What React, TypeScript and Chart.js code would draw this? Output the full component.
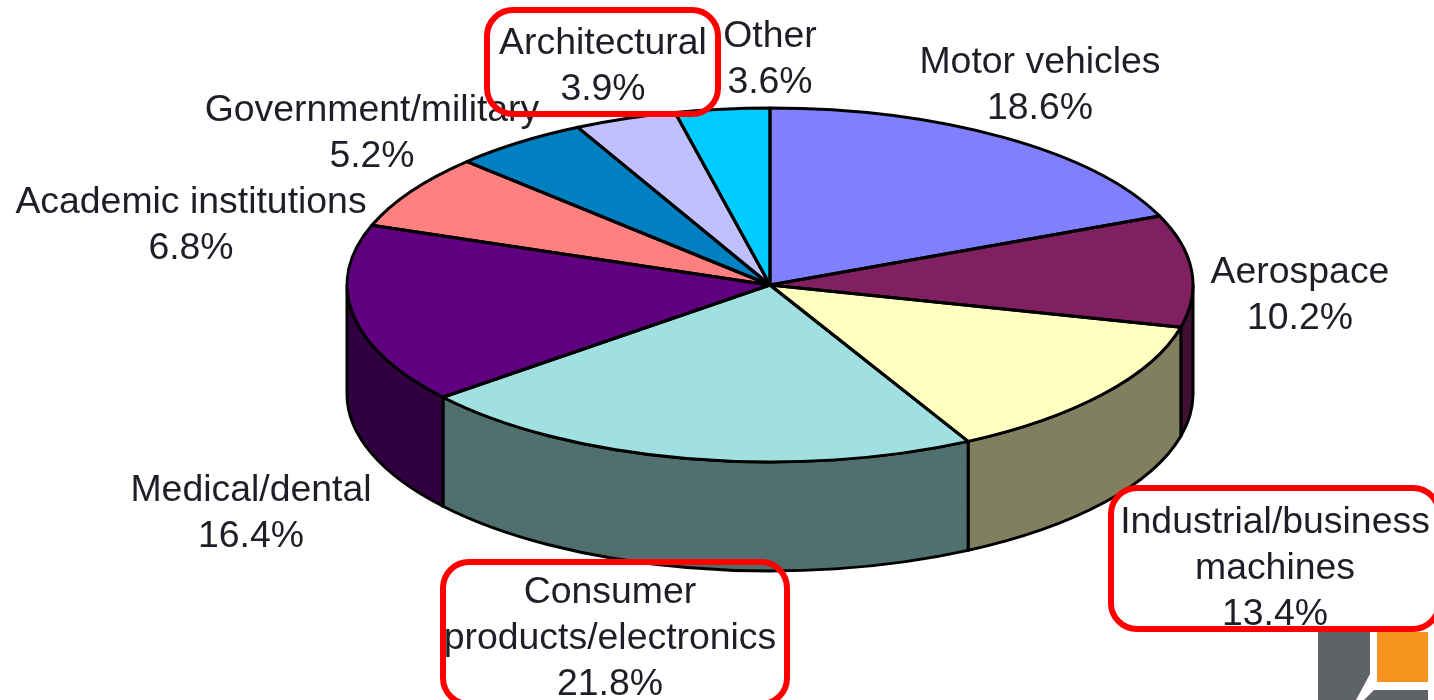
import React, { useEffect, useRef } from "react";
import { Chart, registerables } from "chart.js";

Chart.register(...registerables);

const categories = [
  ["Motor vehicles"],
  ["Aerospace"],
  ["Industrial/business", "machines"],
  ["Consumer", "products/electronics"],
  ["Medical/dental"],
  ["Academic institutions"],
  ["Government/military"],
  ["Architectural"],
  ["Other"],
];
const shares = [18.6, 10.2, 13.4, 21.8, 16.4, 6.8, 5.2, 3.9, 3.6];
const topColors = ["#8080ff", "#802060", "#ffffc0", "#a0e0e0", "#600080", "#ff8080", "#0080c0", "#c0c0ff", "#00ccff"];
const wallColors = ["#404080", "#401030", "#808060", "#507070", "#300040", "#804040", "#004060", "#606080", "#006680"];

// Layout only: centre x and first-line centre y of each label.
const labelX = [1040, 1300, 1275, 610, 251, 191, 372, 603, 770];
const labelY = [62.5, 272.5, 522.5, 592.5, 490.5, 202.5, 110.5, 43.5, 37];
const LINE_HEIGHT = 46;
const highlightBoxes = [
  [487, 10, 231, 104],
  [1111, 488, 328, 141],
  [443, 562, 344, 142],
];

const CX = 770;
const CY = 285;
const RX = 423;
const RY = 177;
const SQUASH = RY / RX;
const DEPTH = 109;

const pie3d = {
  id: "pie3d",
  beforeDatasetsDraw(chart: any) {
    const ctx = chart.ctx;
    const arcs = chart.getDatasetMeta(0).data;
    ctx.save();
    ctx.lineWidth = 3;
    ctx.strokeStyle = "#000";
    ctx.lineJoin = "round";
    arcs.forEach((arc: any, i: number) => {
      const p = arc.getProps(["startAngle", "endAngle", "x", "y", "outerRadius"], true);
      const a = Math.max(p.startAngle, 0);
      const b = Math.min(p.endAngle, Math.PI);
      if (b <= a) return;
      const ry = p.outerRadius * SQUASH;
      ctx.beginPath();
      ctx.ellipse(p.x, p.y, p.outerRadius, ry, 0, a, b, false);
      ctx.ellipse(p.x, p.y + DEPTH, p.outerRadius, ry, 0, b, a, true);
      ctx.closePath();
      ctx.fillStyle = wallColors[i];
      ctx.fill();
      ctx.stroke();
    });
    ctx.restore();
    ctx.save();
    ctx.translate(CX, CY);
    ctx.scale(1, SQUASH);
    ctx.translate(-CX, -CY);
  },
  afterDatasetsDraw(chart: any) {
    const ctx = chart.ctx;
    ctx.restore();
    const arcs = chart.getDatasetMeta(0).data;
    ctx.save();
    ctx.lineWidth = 3;
    ctx.strokeStyle = "#000";
    ctx.lineJoin = "round";
    arcs.forEach((arc: any) => {
      const p = arc.getProps(["startAngle", "endAngle", "x", "y", "outerRadius"], true);
      ctx.beginPath();
      ctx.moveTo(p.x, p.y);
      ctx.ellipse(p.x, p.y, p.outerRadius, p.outerRadius * SQUASH, 0, p.startAngle, p.endAngle, false);
      ctx.closePath();
      ctx.stroke();
    });
    ctx.restore();
  },
  afterDraw(chart: any) {
    const ctx = chart.ctx;
    ctx.save();
    // Corner logo fragment
    ctx.fillStyle = "#5f6266";
    ctx.beginPath();
    ctx.moveTo(1318, 632);
    ctx.lineTo(1370, 632);
    ctx.lineTo(1370, 674);
    ctx.lineTo(1356, 700);
    ctx.lineTo(1318, 700);
    ctx.closePath();
    ctx.fill();
    ctx.beginPath();
    ctx.moveTo(1374, 690);
    ctx.lineTo(1428, 690);
    ctx.lineTo(1428, 700);
    ctx.lineTo(1364, 700);
    ctx.closePath();
    ctx.fill();
    ctx.fillStyle = "#f7941d";
    ctx.fillRect(1377, 632, 51, 50);

    // Labels
    ctx.font = '37.4px "Liberation Sans", Arial, sans-serif';
    ctx.textAlign = "center";
    ctx.textBaseline = "middle";
    ctx.fillStyle = "#1c1f25";
    categories.forEach((lines, i) => {
      const all = [...lines, `${shares[i].toFixed(1)}%`];
      all.forEach((t, j) => ctx.fillText(t, labelX[i], labelY[i] + j * LINE_HEIGHT));
    });

    // Highlight boxes
    ctx.strokeStyle = "#ff0000";
    ctx.lineWidth = 6;
    highlightBoxes.forEach(([x, y, w, h]) => {
      ctx.beginPath();
      ctx.roundRect(x, y, w, h, 26);
      ctx.stroke();
    });
    ctx.restore();
  },
};

export default function App() {
  const ref = useRef<HTMLCanvasElement>(null);
  useEffect(() => {
    document.body.style.margin = "0";
    const chart = new Chart(ref.current!, {
      type: "pie",
      data: {
        labels: categories.map((c) => c.join(" ")),
        datasets: [
          {
            data: shares,
            backgroundColor: topColors,
            borderWidth: 0,
            radius: RX,
            clip: false,
          } as any,
        ],
      },
      options: {
        animation: false,
        responsive: false,
        maintainAspectRatio: false,
        layout: { padding: { left: 2 * CX - 1434, bottom: 700 - 2 * CY } },
        plugins: { legend: { display: false }, tooltip: { enabled: false }, title: { display: false } },
      },
      plugins: [pie3d],
    });
    return () => chart.destroy();
  }, []);
  return (
    <canvas
      ref={ref}
      width={1434}
      height={700}
      style={{ display: "block", width: 1434, height: 700, filter: "blur(0.75px)" }}
    />
  );
}
